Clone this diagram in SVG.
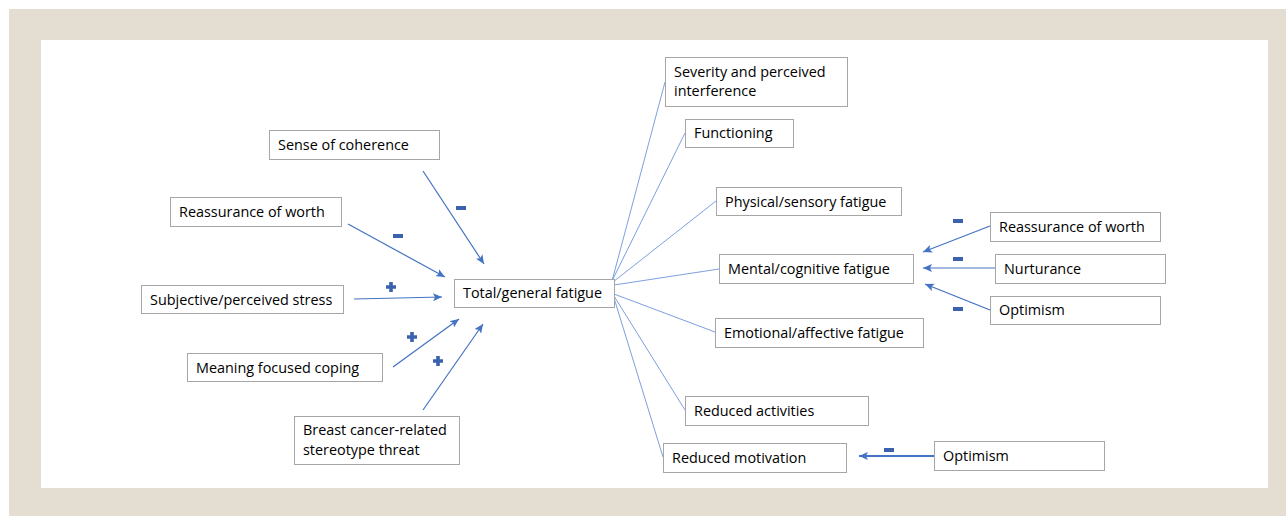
<svg xmlns="http://www.w3.org/2000/svg" width="1286" height="516" viewBox="0 0 1286 516">
<defs>
<style>
.box{fill:#fff;stroke:#a6a6a6;stroke-width:1}
.t{font-family:"Open Sans","Liberation Sans",Arial,sans-serif;font-size:14.4px;fill:#000}
.thin{stroke:#5b87d6;stroke-width:0.8;fill:none}
.arr{stroke:#4472c4;stroke-width:1.2;fill:none;marker-end:url(#ah)}
.sign{fill:#3a62ad}
</style>
<marker id="ah" markerUnits="userSpaceOnUse" markerWidth="10" markerHeight="8" refX="9" refY="4" orient="auto">
<path d="M0,0 L9,4 L0,8 L2,4 Z" fill="#4472c4"/>
</marker>
<path id="minus" d="M-5,-2 H5 V2 H-5 Z"/>
<path id="plus" d="M-1.8,-5 H1.8 V-1.8 H5 V1.8 H1.8 V5 H-1.8 V1.8 H-5 V-1.8 H-1.8 Z"/>
</defs>
<rect x="9" y="9" width="1277" height="507" fill="#e4ded2"/>
<rect x="41" y="40" width="1227" height="448" fill="#fff"/>

<g id="connectors">
<path class="thin" d="M612,281 L665,82"/>
<path class="thin" d="M612,281 L685,133"/>
<path class="thin" d="M613,282 L716,201"/>
<path class="thin" d="M614,285 L719,269"/>
<path class="thin" d="M614,294 L715,332"/>
<path class="thin" d="M614,296 L685,410"/>
<path class="thin" d="M614,298 L663,457"/>
<path class="arr" d="M423,171 L484,264"/>
<path class="arr" d="M348,224 L445,277"/>
<path class="arr" d="M354,299 L442,297"/>
<path class="arr" d="M393,367 L459,319"/>
<path class="arr" d="M423,410 L483,324"/>
<path class="arr" d="M990,226 L923,252"/>
<path class="arr" d="M995,268 L923,268"/>
<path class="arr" d="M990,310 L925,284"/>
<path class="arr" d="M934,456 L859,456" style="stroke-width:2"/>
<use href="#minus" class="sign" x="461" y="208"/>
<use href="#minus" class="sign" x="398" y="236"/>
<use href="#plus" class="sign" x="391" y="287"/>
<use href="#plus" class="sign" x="412" y="337"/>
<use href="#plus" class="sign" x="438" y="361"/>
<use href="#minus" class="sign" x="958" y="221"/>
<use href="#minus" class="sign" x="958" y="259"/>
<use href="#minus" class="sign" x="958" y="309"/>
<use href="#minus" class="sign" x="889" y="450"/>
</g>

<g id="n-total"><rect class="box" x="454.5" y="279.5" width="160" height="28"/><text class="t" x="463" y="298">Total/general fatigue</text></g>
<g id="n-coherence"><rect class="box" x="269.5" y="130.5" width="170" height="29"/><text class="t" x="278" y="150">Sense of coherence</text></g>
<g id="n-worth-left"><rect class="box" x="170.5" y="197.5" width="171" height="29"/><text class="t" x="179" y="217">Reassurance of worth</text></g>
<g id="n-stress"><rect class="box" x="141.5" y="285.5" width="202" height="28"/><text class="t" x="150" y="305">Subjective/perceived stress</text></g>
<g id="n-coping"><rect class="box" x="187.5" y="353.5" width="195" height="28"/><text class="t" x="196" y="373">Meaning focused coping</text></g>
<g id="n-threat"><rect class="box" x="294.5" y="416.5" width="165" height="48"/><text class="t" x="303" y="435">Breast cancer-related</text><text class="t" x="303" y="455">stereotype threat</text></g>
<g id="n-severity"><rect class="box" x="665.5" y="57.5" width="182" height="49"/><text class="t" x="674" y="77">Severity and perceived</text><text class="t" x="674" y="96">interference</text></g>
<g id="n-functioning"><rect class="box" x="685.5" y="119.5" width="108" height="28"/><text class="t" x="694" y="138">Functioning</text></g>
<g id="n-physical"><rect class="box" x="716.5" y="187.5" width="185" height="28"/><text class="t" x="725" y="207">Physical/sensory fatigue</text></g>
<g id="n-mental"><rect class="box" x="719.5" y="254.5" width="194" height="29"/><text class="t" x="728" y="274">Mental/cognitive fatigue</text></g>
<g id="n-emotional"><rect class="box" x="715.5" y="318.5" width="208" height="29"/><text class="t" x="724" y="338">Emotional/affective fatigue</text></g>
<g id="n-activities"><rect class="box" x="685.5" y="396.5" width="183" height="29"/><text class="t" x="694" y="416">Reduced activities</text></g>
<g id="n-motivation"><rect class="box" x="663.5" y="443.5" width="183" height="29"/><text class="t" x="672" y="463">Reduced motivation</text></g>
<g id="n-worth-right"><rect class="box" x="990.5" y="212.5" width="170" height="29"/><text class="t" x="999" y="232">Reassurance of worth</text></g>
<g id="n-nurturance"><rect class="box" x="995.5" y="254.5" width="170" height="29"/><text class="t" x="1004" y="274">Nurturance</text></g>
<g id="n-optimism-right"><rect class="box" x="990.5" y="296.5" width="170" height="28"/><text class="t" x="999" y="315">Optimism</text></g>
<g id="n-optimism-bottom"><rect class="box" x="934.5" y="441.5" width="170" height="29"/><text class="t" x="943" y="461">Optimism</text></g>
</svg>
